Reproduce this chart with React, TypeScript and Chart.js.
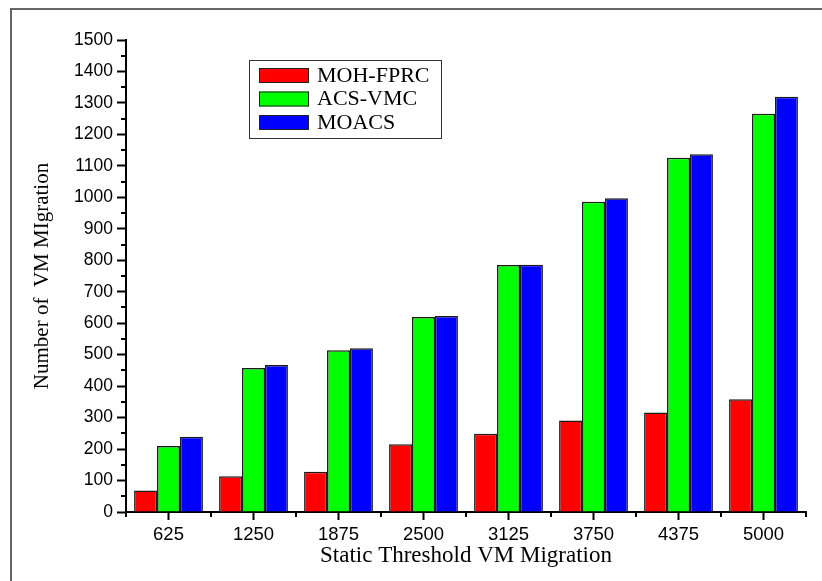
import React, { useEffect, useRef } from 'react';
import { Chart, registerables } from 'chart.js';

Chart.register(...registerables);

const categories = ['625', '1250', '1875', '2500', '3125', '3750', '4375', '5000'];
const seriesNames = ['MOH-FPRC', 'ACS-VMC', 'MOACS'];
const mohFprc = [68, 114, 128, 215, 249, 291, 316, 358];
const acsVmc = [210, 458, 514, 620, 785, 986, 1126, 1266];
const moacs = [239, 467, 520, 623, 786, 997, 1137, 1320];
const seriesColors = ['#ff0000', '#00ff00', '#0000ff'];
const yMin = 0;
const yMax = 1500;
const yStep = 100;
const xTitle = 'Static Threshold VM Migration';
const yTitle = 'Number of  VM MIgration';

const decorPlugin = {
  id: 'decor',
  beforeDraw(chart: any) {
    const ctx = chart.ctx;
    ctx.save();
    ctx.fillStyle = '#ffffff';
    ctx.fillRect(0, 0, chart.width, chart.height);
    ctx.restore();
  },
  afterDraw(chart: any) {
    const ctx = chart.ctx;
    const xs = chart.scales.x;
    const ys = chart.scales.y;
    ctx.save();
    // outer frame
    ctx.strokeStyle = '#666666';
    ctx.lineWidth = 2;
    ctx.beginPath();
    ctx.moveTo(11, chart.height);
    ctx.lineTo(11, 9);
    ctx.lineTo(chart.width, 9);
    ctx.stroke();
    // minor ticks
    ctx.strokeStyle = '#000000';
    ctx.lineWidth = 2;
    ctx.beginPath();
    for (let v = yMin + yStep / 2; v < yMax; v += yStep) {
      const py = Math.round(ys.getPixelForValue(v));
      ctx.moveTo(ys.right - 5, py);
      ctx.lineTo(ys.right, py);
    }
    for (let i = 0; i <= categories.length; i++) {
      const px = Math.round(xs.getPixelForValue(i - 0.5));
      ctx.moveTo(px, xs.top);
      ctx.lineTo(px, xs.top + 5);
    }
    ctx.stroke();
    // legend
    const bx = 249.5, by = 60.5, bw = 192, bh = 78;
    ctx.fillStyle = '#ffffff';
    ctx.fillRect(bx, by, bw, bh);
    ctx.strokeStyle = '#333333';
    ctx.lineWidth = 1;
    ctx.strokeRect(bx, by, bw, bh);
    ctx.font = '22px "Liberation Serif"';
    ctx.textBaseline = 'middle';
    chart.data.datasets.forEach((ds: any, i: number) => {
      const sy = 68 + i * 23.5;
      ctx.fillStyle = ds.backgroundColor;
      ctx.fillRect(259, sy, 50, 15);
      ctx.strokeStyle = '#222222';
      ctx.strokeRect(259.5, sy + 0.5, 49, 14);
      ctx.fillStyle = '#000000';
      ctx.fillText(ds.label, 317, sy + 8);
    });
    ctx.restore();
  },
};

export default function App() {
  const ref = useRef<HTMLCanvasElement>(null);
  useEffect(() => {
    document.body.style.margin = '0';
    const canvas = ref.current!;
    const data = [mohFprc, acsVmc, moacs];
    const chart = new Chart(canvas, {
      type: 'bar',
      data: {
        labels: categories,
        datasets: data.map((d, i) => ({
          label: seriesNames[i],
          data: d,
          backgroundColor: seriesColors[i],
          borderColor: '#1a1a1a',
          borderWidth: 1.5,
          categoryPercentage: 0.81,
          barPercentage: 1.0,
        })),
      },
      options: {
        animation: false,
        responsive: false,
        maintainAspectRatio: false,
        layout: { padding: { left: 0, top: 40, right: 16, bottom: 0 } },
        plugins: { legend: { display: false }, tooltip: { enabled: false } },
        scales: {
          x: {
            afterFit: (s: any) => { s.height = 69; },
            grid: {
              display: true,
              offset: false,
              drawOnChartArea: false,
              drawTicks: true,
              tickLength: 8,
              tickWidth: 2,
              tickColor: '#000000',
              color: '#000000',
            },
            border: { display: true, color: '#000000', width: 2 },
            ticks: {
              color: '#000000',
              padding: 4,
              maxRotation: 0,
              font: { family: '"Liberation Sans"', size: 18.5 },
            },
            title: {
              display: true,
              text: xTitle,
              color: '#000000',
              font: { family: '"Liberation Serif"', size: 23 },
              padding: { top: 0, bottom: 11 },
            },
          },
          y: {
            min: yMin,
            max: yMax,
            afterFit: (s: any) => { s.width = 126; },
            grid: {
              display: true,
              drawOnChartArea: false,
              drawTicks: true,
              tickLength: 9,
              tickWidth: 2,
              tickColor: '#000000',
              color: '#000000',
            },
            border: { display: true, color: '#000000', width: 2 },
            ticks: {
              stepSize: yStep,
              color: '#000000',
              padding: 4,
              callback: (v: any) => String(v),
              font: { family: '"Liberation Sans"', size: 17.5 },
            },
            title: {
              display: true,
              text: yTitle,
              color: '#000000',
              font: { family: '"Liberation Serif"', size: 21 },
              padding: { top: 30, bottom: 0 },
            },
          },
        },
      },
      plugins: [decorPlugin],
    });
    return () => chart.destroy();
  }, []);
  return (
    <div style={{ width: 822, height: 581 }}>
      <canvas ref={ref} width={822} height={581} style={{ display: 'block', width: 822, height: 581 }} />
    </div>
  );
}
